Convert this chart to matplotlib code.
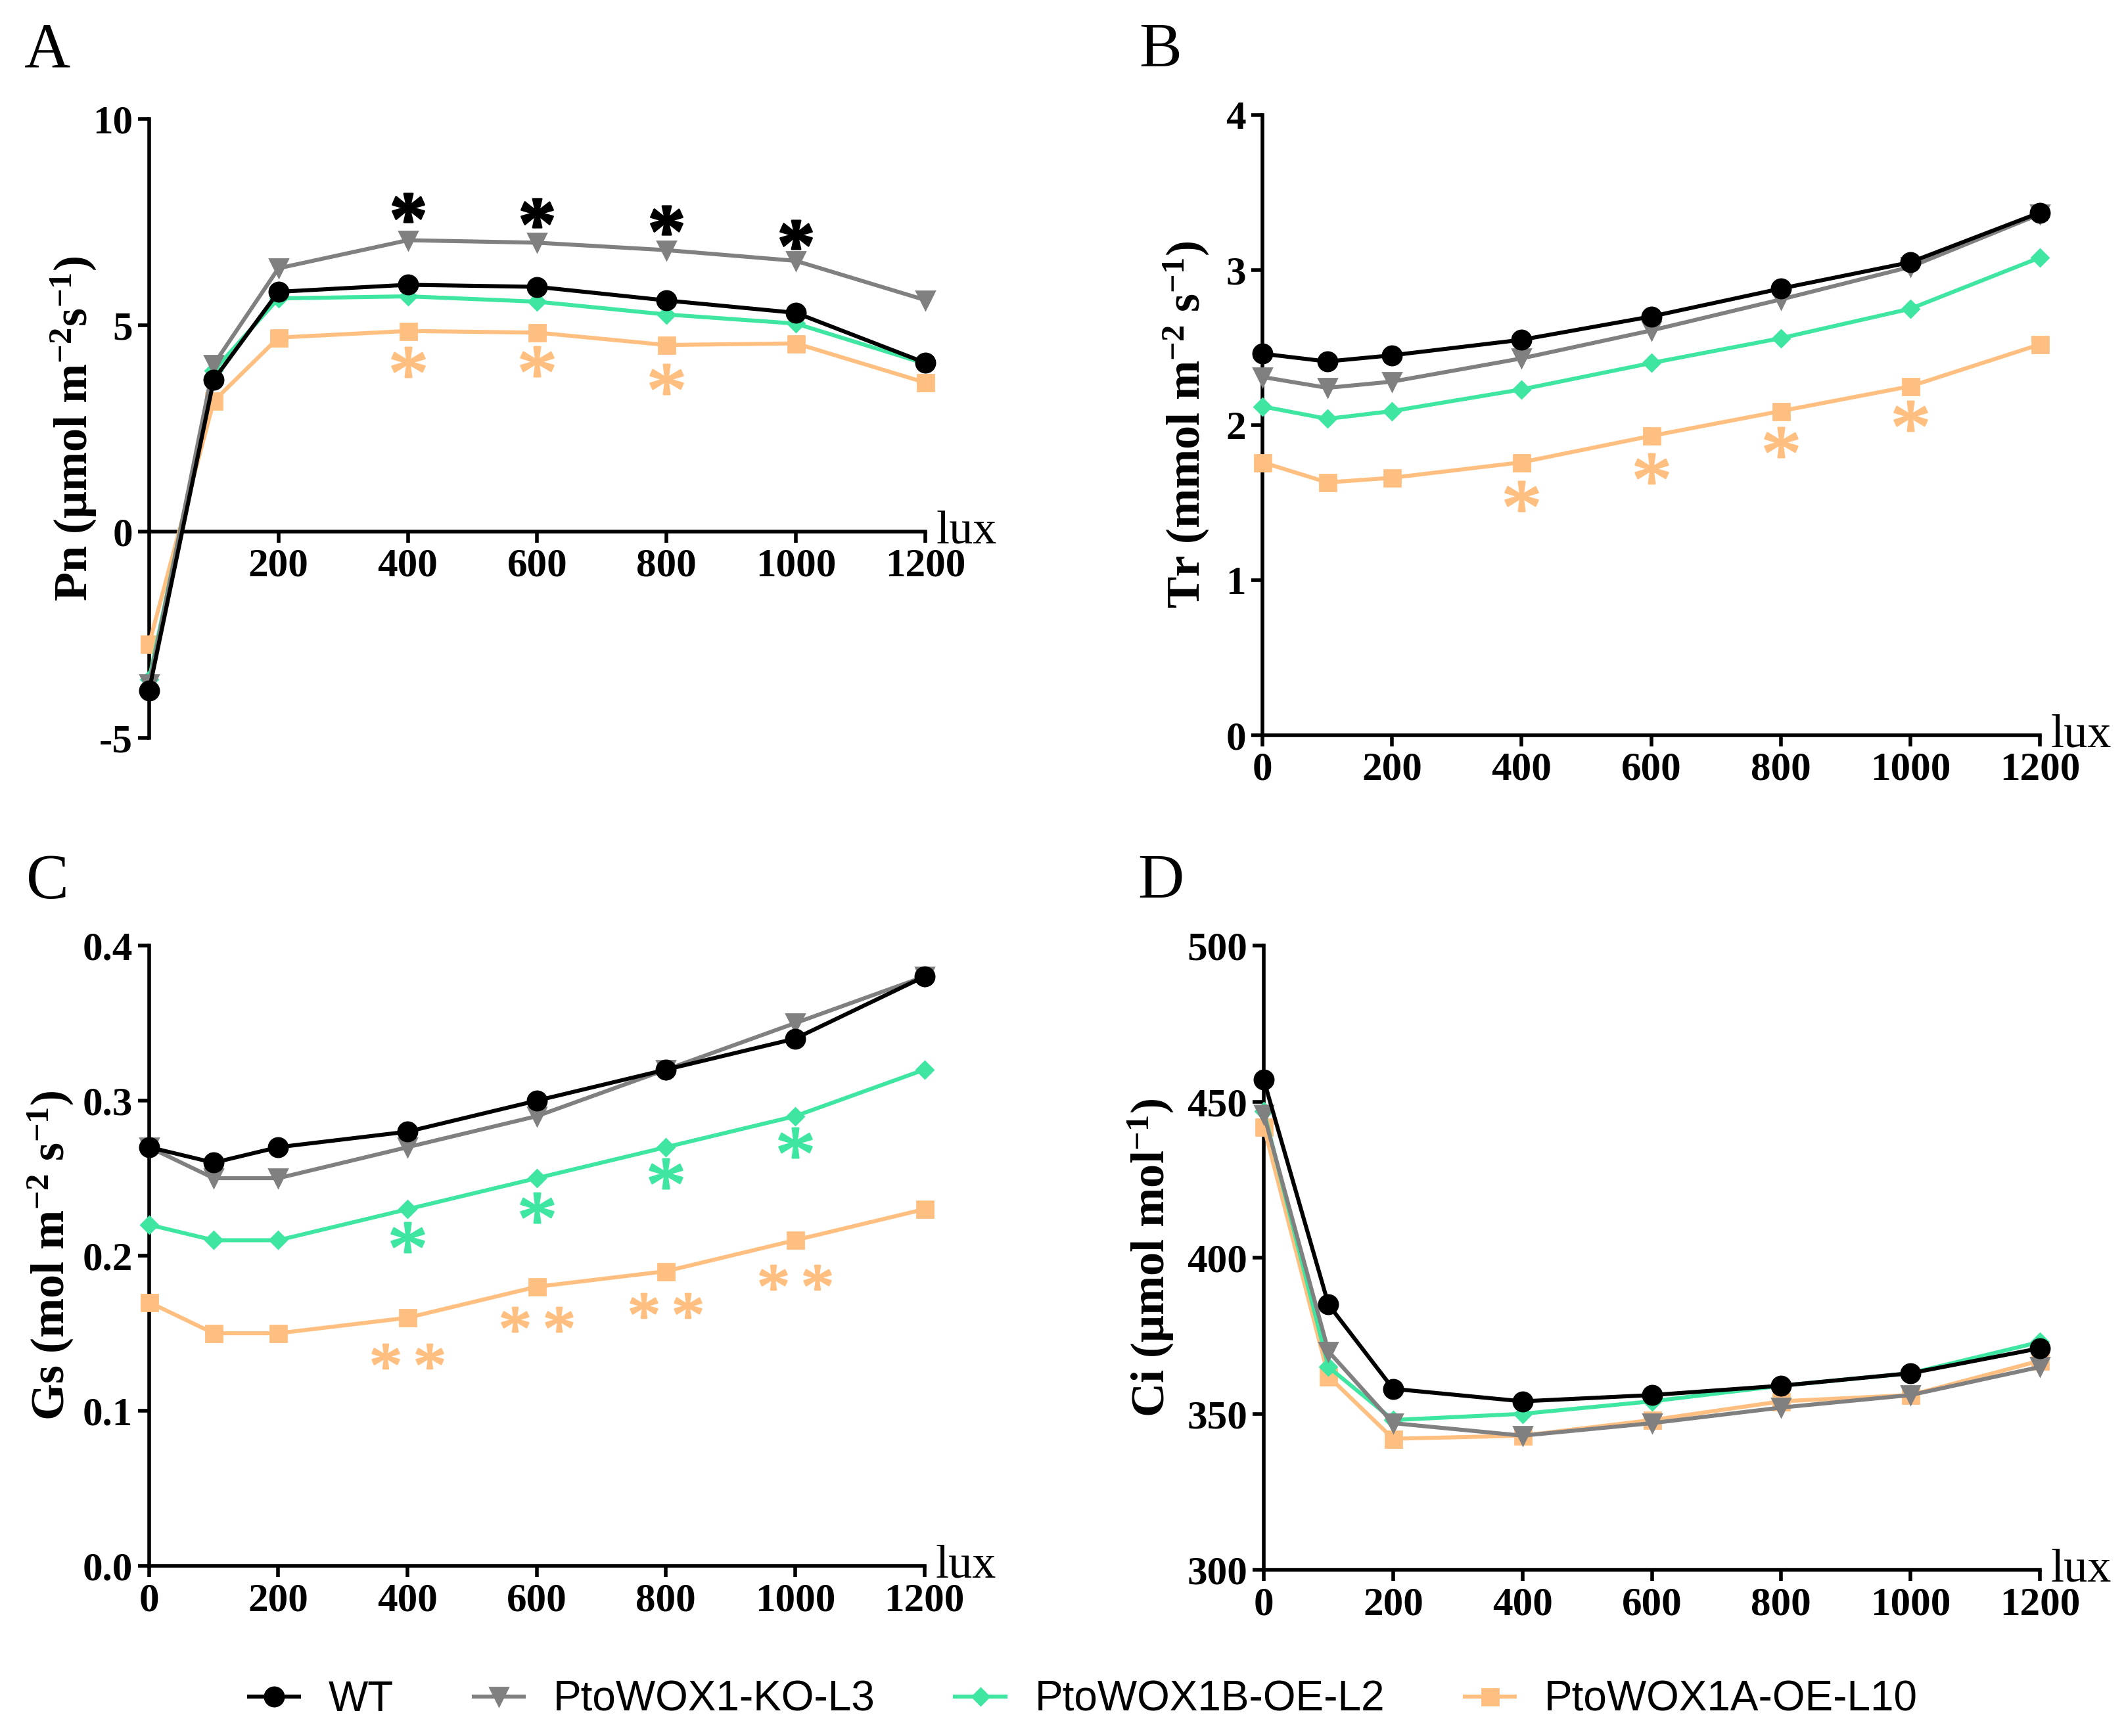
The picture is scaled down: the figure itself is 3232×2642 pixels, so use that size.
import matplotlib
matplotlib.use("Agg")
import matplotlib.pyplot as plt
from matplotlib.ticker import FormatStrFormatter

plt.rcParams["font.family"] = "Liberation Serif"
plt.rcParams["axes.unicode_minus"] = False
plt.rcParams["mathtext.fontset"] = "custom"
plt.rcParams["mathtext.rm"] = "Liberation Serif:bold"
plt.rcParams["mathtext.bf"] = "Liberation Serif:bold"
plt.rcParams["mathtext.it"] = "Liberation Serif:bold"
plt.rcParams["mathtext.sf"] = "Liberation Serif"

lux = [0, 100, 200, 400, 600, 800, 1000, 1200]
labels = ["WT", "PtoWOX1-KO-L3", "PtoWOX1B-OE-L2", "PtoWOX1A-OE-L10"]
colors = ["black", "#808080", "#3ee6a2", "#ffbf80"]
markers = ["o", "v", "D", "s"]
msizes = [10.5, 10, 6.5, 9]

# Pn
pn_wt = [-3.85, 3.68, 5.81, 5.98, 5.93, 5.60, 5.30, 4.09]
pn_ko = [-3.70, 4.05, 6.38, 7.06, 7.00, 6.82, 6.56, 5.61]
pn_b = [-3.58, 3.90, 5.65, 5.70, 5.57, 5.26, 5.04, 4.07]
pn_a = [-2.73, 3.16, 4.70, 4.86, 4.82, 4.52, 4.56, 3.61]
# Tr
tr_wt = [2.46, 2.41, 2.45, 2.55, 2.70, 2.88, 3.05, 3.37]
tr_ko = [2.31, 2.24, 2.28, 2.43, 2.61, 2.81, 3.02, 3.36]
tr_b = [2.12, 2.04, 2.09, 2.23, 2.40, 2.56, 2.75, 3.08]
tr_a = [1.76, 1.63, 1.66, 1.76, 1.93, 2.09, 2.25, 2.52]
# Gs
gs_wt = [0.27, 0.26, 0.27, 0.28, 0.30, 0.32, 0.34, 0.38]
gs_ko = [0.27, 0.25, 0.25, 0.27, 0.29, 0.32, 0.35, 0.38]
gs_b = [0.22, 0.21, 0.21, 0.23, 0.25, 0.27, 0.29, 0.32]
gs_a = [0.17, 0.15, 0.15, 0.16, 0.18, 0.19, 0.21, 0.23]
# Ci
ci_wt = [457, 385, 358, 354, 356, 359, 363, 371]
ci_ko = [446, 370, 347, 343, 347, 352, 356, 365]
ci_b = [447, 365, 348, 350, 354, 359, 363, 373]
ci_a = [442, 362, 342, 343, 348, 354, 356, 367]

# significance marks (x, y)
sig_x = [400, 600, 800, 1000]
pn_sig_ko = [7.85, 7.72, 7.55, 7.20]
pn_sig_a = [4.10, 4.13, 3.70]
tr_sig_a = [1.54, 1.72, 1.89, 2.06]
gs_sig_b = [0.212, 0.231, 0.253, 0.273]
gs_sig_a = [0.135, 0.159, 0.168, 0.186]

fig = plt.figure(figsize=(16.16, 13.21), dpi=200)

boxes = [
    [0.0702, 0.5750, 0.3654, 0.3565],
    [0.5944, 0.5765, 0.3660, 0.3573],
    [0.0702, 0.0980, 0.3650, 0.3573],
    [0.5950, 0.0957, 0.3654, 0.3596],
]
letters = ["A", "B", "C", "D"]
letter_pos = [(72, 78), (1766, 78), (72, 1344), (1766, 1344)]
series = [
    [pn_wt, pn_ko, pn_b, pn_a],
    [tr_wt, tr_ko, tr_b, tr_a],
    [gs_wt, gs_ko, gs_b, gs_a],
    [ci_wt, ci_ko, ci_b, ci_a],
]
ylabels = [
    r"Pn (μmol m$^{-2}$s$^{-1}$)",
    r"Tr (mmol m$^{-2}$ s$^{-1}$)",
    r"Gs (mol m$^{-2}$ s$^{-1}$)",
    r"Ci (μmol mol$^{-1}$)",
]
ylabel_x = [-0.097, -0.098, -0.127, -0.146]
ylims = [(-5, 10), (0, 4), (0, 0.4), (300, 500)]
yticks = [[-5, 0, 5, 10], [0, 1, 2, 3, 4], [0, 0.1, 0.2, 0.3, 0.4], [300, 350, 400, 450, 500]]

axes = []
for i in range(4):
    ax = fig.add_axes(boxes[i])
    axes.append(ax)
    data = series[i]
    # draw order: orange, green, gray, black on top
    handles = [None] * 4
    for j in [3, 2, 1, 0]:
        h, = ax.plot(lux, data[j], color=colors[j], marker=markers[j],
                     markersize=msizes[j], linewidth=2.2, label=labels[j],
                     clip_on=False, zorder=3 + (3 - j))
        handles[j] = h
    ax.set_xlim(0, 1200)
    ax.set_ylim(*ylims[i])
    ax.set_yticks(yticks[i])
    ax.spines["top"].set_visible(False)
    ax.spines["right"].set_visible(False)
    for s in ["left", "bottom"]:
        ax.spines[s].set_linewidth(2)
    ax.tick_params(width=2, length=6, labelsize=22, direction="out", pad=3)
    ax.set_ylabel(ylabels[i], fontsize=26, fontweight="bold", va="center")
    ax.yaxis.set_label_coords(ylabel_x[i], 0.5)
    fig.text(letter_pos[i][0] / 3232, 1 - letter_pos[i][1] / 2642, letters[i],
             fontsize=35, ha="center", va="center")
    if i == 0:
        ax.spines["bottom"].set_position(("data", 0))
        ax.set_xticks([200, 400, 600, 800, 1000, 1200])
        ax.annotate("lux", xy=(1200, 0), xycoords="data", xytext=(6, 0),
                    textcoords="offset points", fontsize=26, va="center", ha="left")
    else:
        ax.set_xticks([0, 200, 400, 600, 800, 1000, 1200])
        ax.annotate("lux", xy=(1, 0), xycoords="axes fraction", xytext=(6, 0),
                    textcoords="offset points", fontsize=26, va="center", ha="left")
    if i == 2:
        ax.yaxis.set_major_formatter(FormatStrFormatter("%.1f"))
    for t in ax.get_xticklabels() + ax.get_yticklabels():
        t.set_fontweight("bold")

ax_a, ax_b, ax_c, ax_d = axes
star = r"$\mathsf{*}$"
ax_a.scatter(sig_x, pn_sig_ko, marker=r"$*$", s=300, color="black", zorder=10, clip_on=False)
ax_a.scatter(sig_x[:3], pn_sig_a, marker=star, s=320, color=colors[3], zorder=10, clip_on=False)
ax_b.scatter(sig_x, tr_sig_a, marker=star, s=320, color=colors[3], zorder=10, clip_on=False)
ax_c.scatter(sig_x, gs_sig_b, marker=star, s=320, color=colors[2], zorder=10, clip_on=False)
ax_c.scatter(sig_x, gs_sig_a, marker=r"$\mathsf{**}$", s=1500, color=colors[3], zorder=10, clip_on=False)

fig.legend(handles=handles, labels=labels, loc="center", ncol=4,
           bbox_to_anchor=(0.51, 1 - 2587 / 2642), frameon=False,
           prop={"family": "Liberation Sans", "size": 23},
           handlelength=1.2, columnspacing=1.9, handletextpad=0.7)

fig.savefig("out.png", dpi=200)
